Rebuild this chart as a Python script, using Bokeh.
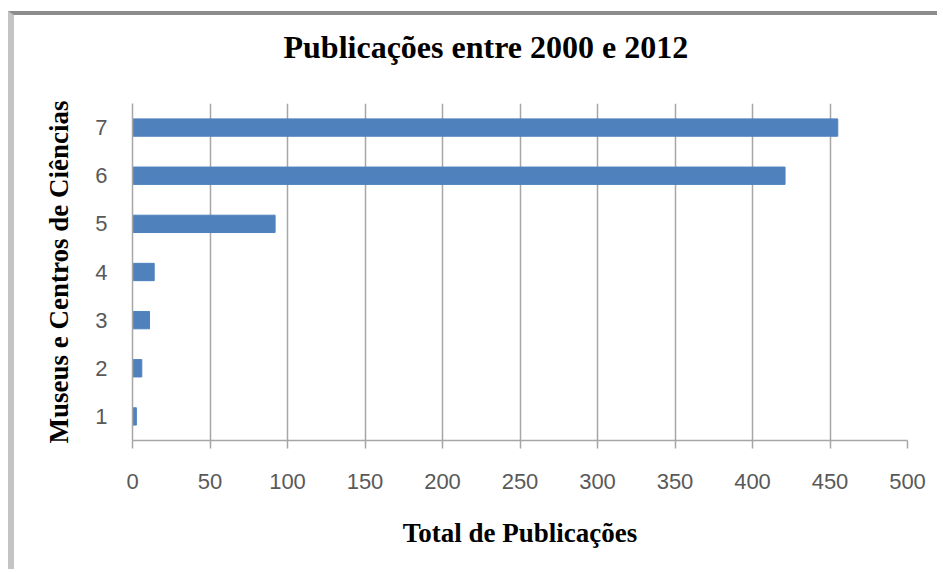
from bokeh.plotting import figure
from bokeh.models import FactorRange, Range1d, FixedTicker
from bokeh.embed import file_html
from bokeh.resources import INLINE

# Data
categories = ["1", "2", "3", "4", "5", "6", "7"]
totals = [2.5, 6, 11, 14, 92, 421, 455]
x_ticks = [0, 50, 100, 150, 200, 250, 300, 350, 400, 450, 500]

title_text = "Publicações entre 2000 e 2012"
x_label = "Total de Publicações"
y_label = "Museus e Centros de Ciências"

p = figure(
    width=929, height=558,
    y_range=FactorRange(factors=categories, range_padding=0),
    x_range=Range1d(0, 500),
    output_backend="svg", toolbar_location=None,
    title=title_text + "\n ",
    min_border_left=118, min_border_right=36,
    min_border_top=88, min_border_bottom=133,
)
p.styles = {"margin-top": "11px", "margin-left": "8px",
            "border-top": "4px solid #8c8c8c",
            "border-left": "6px solid #c4c4c4"}

p.hbar(y=categories, right=totals, left=0, height=0.36,
       color="#4f81bd", line_color="#4f81bd")

p.title.align = "left"
p.title.offset = 151
p.title.standoff = 12
p.title.text_line_height = 0.9
p.title.text_font = "Liberation Serif"
p.title.text_font_size = "32px"
p.title.text_font_style = "bold"
p.title.text_color = "#000000"

p.outline_line_color = None
p.background_fill_color = "white"
p.border_fill_color = "white"

grid_col = "#a6a6a6"
p.xgrid.grid_line_color = grid_col
p.xgrid.grid_line_width = 1.5
p.ygrid.grid_line_color = None

p.xaxis.ticker = FixedTicker(ticks=x_ticks)
p.xaxis.axis_line_color = grid_col
p.xaxis.axis_line_width = 1.5
p.xaxis.major_tick_line_color = grid_col
p.xaxis.major_tick_line_width = 1.5
p.xaxis.major_tick_out = 8
p.xaxis.major_tick_in = 0
p.xaxis.minor_tick_line_color = None
p.xaxis.major_label_standoff = 25
p.xaxis.major_label_text_font = "Liberation Sans"
p.xaxis.major_label_text_font_size = "22px"
p.xaxis.major_label_text_color = "#595959"
p.xaxis.axis_label = x_label
p.xaxis.axis_label_standoff = 26
p.xaxis.axis_label_text_font = "Liberation Serif"
p.xaxis.axis_label_text_font_size = "27px"
p.xaxis.axis_label_text_font_style = "bold"
p.xaxis.axis_label_text_color = "#000000"

p.yaxis.axis_line_color = grid_col
p.yaxis.axis_line_width = 1.5
p.yaxis.major_tick_line_color = None
p.yaxis.major_tick_out = 0
p.yaxis.major_tick_in = 0
p.yaxis.minor_tick_line_color = None
p.yaxis.major_label_standoff = 25
p.yaxis.major_label_text_font = "Liberation Sans"
p.yaxis.major_label_text_font_size = "22px"
p.yaxis.major_label_text_color = "#595959"
p.yaxis.axis_label = y_label
p.yaxis.axis_label_standoff = 18
p.yaxis.axis_label_text_font = "Liberation Serif"
p.yaxis.axis_label_text_font_size = "27px"
p.yaxis.axis_label_text_font_style = "bold"
p.yaxis.axis_label_text_color = "#000000"

open("out.html", "w").write(file_html(p, INLINE))
